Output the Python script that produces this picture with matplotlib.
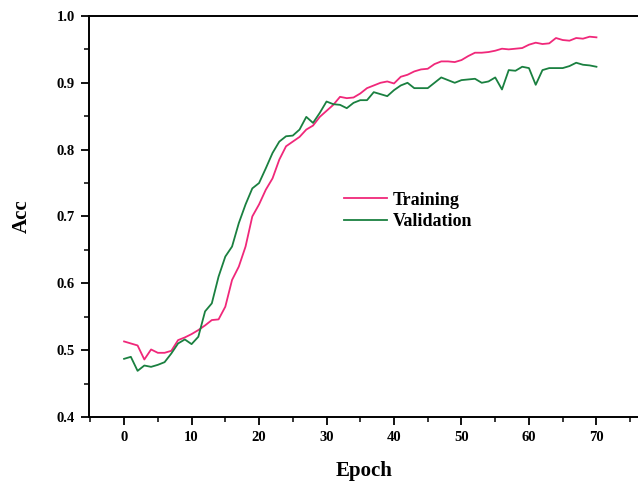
import matplotlib
matplotlib.use("Agg")
import matplotlib.pyplot as plt
import numpy as np
from matplotlib.ticker import MultipleLocator

plt.rcParams['font.family'] = ['Liberation Serif', 'DejaVu Serif']
plt.rcParams['font.weight'] = 'bold'

epochs = np.arange(0, 71)
train_acc = [0.513, 0.510, 0.507, 0.486, 0.501, 0.496, 0.496, 0.499, 0.515, 0.519,
             0.524, 0.530, 0.537, 0.545, 0.546, 0.565, 0.605, 0.625, 0.655, 0.700,
             0.718, 0.740, 0.757, 0.785, 0.805, 0.812, 0.819, 0.830, 0.836, 0.849,
             0.858, 0.867, 0.879, 0.877, 0.878, 0.884, 0.892, 0.896, 0.900, 0.902,
             0.899, 0.909, 0.912, 0.917, 0.920, 0.921, 0.928, 0.932, 0.932, 0.931,
             0.934, 0.940, 0.945, 0.945, 0.946, 0.948, 0.951, 0.950, 0.951, 0.952,
             0.957, 0.960, 0.958, 0.959, 0.967, 0.964, 0.963, 0.967, 0.966, 0.969,
             0.968]
val_acc = [0.487, 0.490, 0.469, 0.477, 0.475, 0.478, 0.482, 0.495, 0.510, 0.516,
           0.509, 0.520, 0.558, 0.570, 0.610, 0.640, 0.655, 0.690, 0.718, 0.742,
           0.750, 0.772, 0.795, 0.812, 0.820, 0.821, 0.830, 0.849, 0.840, 0.855,
           0.872, 0.868, 0.867, 0.862, 0.870, 0.874, 0.874, 0.886, 0.883, 0.880,
           0.889, 0.896, 0.900, 0.892, 0.892, 0.892, 0.900, 0.908, 0.904, 0.900,
           0.904, 0.905, 0.906, 0.900, 0.902, 0.908, 0.890, 0.919, 0.918, 0.924,
           0.922, 0.897, 0.919, 0.922, 0.922, 0.922, 0.925, 0.930, 0.927, 0.926,
           0.924]

fig = plt.figure(figsize=(6.38, 4.82), dpi=100)
ax = fig.add_axes([0.1395, 0.1349, 0.862, 0.832])

ax.plot(epochs, train_acc, color='#f0287a', lw=1.3, label='Training')
ax.plot(epochs, val_acc, color='#1a8040', lw=1.3, label='Validation')

ax.set_xlim(-5.2, 76.3)
ax.set_ylim(0.4, 1.0)
ax.xaxis.set_major_locator(MultipleLocator(10))
ax.xaxis.set_minor_locator(MultipleLocator(5))
ax.yaxis.set_major_locator(MultipleLocator(0.1))
ax.yaxis.set_minor_locator(MultipleLocator(0.05))
ax.yaxis.set_major_formatter(plt.FormatStrFormatter('%.1f'))
ax.tick_params(which='major', direction='out', length=6, width=1.3, labelsize=10.5, pad=4)
ax.tick_params(which='minor', direction='out', length=3.5, width=1.1)
ax.spines['right'].set_visible(False)
for s in ['left', 'bottom', 'top']:
    ax.spines[s].set_linewidth(1.4)

ax.set_xlabel('Epoch', fontsize=15, fontweight='bold', labelpad=12)
ax.set_ylabel('Acc', fontsize=15, fontweight='bold', labelpad=18)

ax.legend(loc='center left', bbox_to_anchor=(0.463, 0.514), frameon=False,
          fontsize=13, handlelength=2.4, handletextpad=0.3, labelspacing=0.25,
          borderpad=0, borderaxespad=0)

fig.savefig('out.png', dpi=100)
